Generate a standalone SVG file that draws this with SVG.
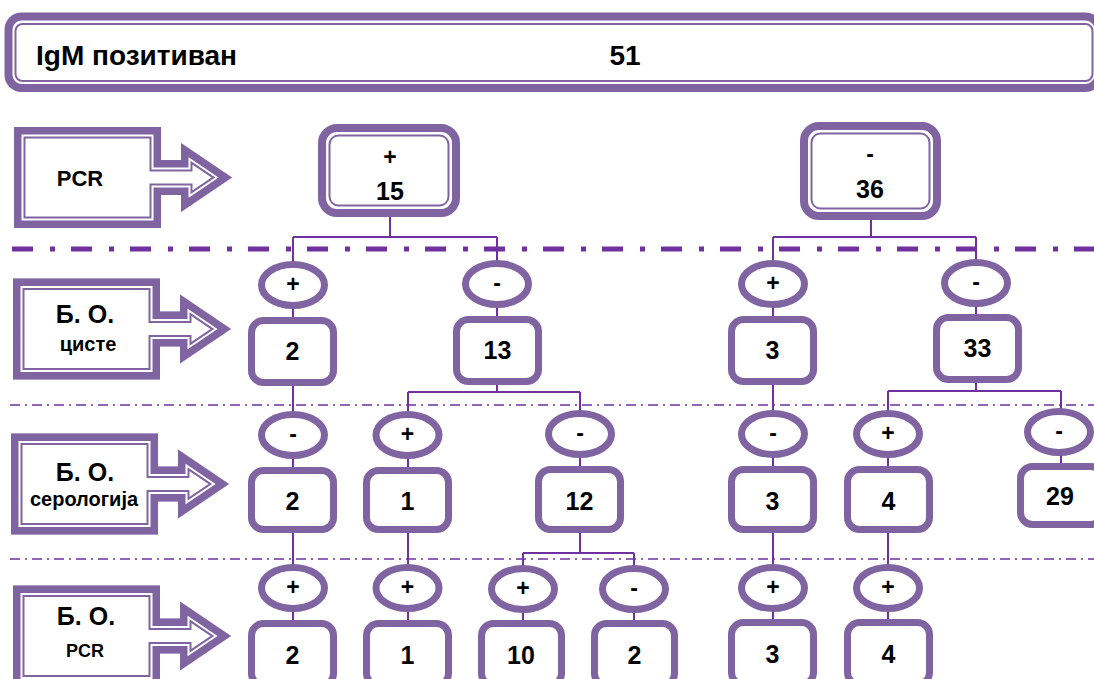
<svg xmlns="http://www.w3.org/2000/svg" xmlns:xlink="http://www.w3.org/1999/xlink" width="1094" height="679" viewBox="0 0 1094 679">
<style>
.t{font-family:"Liberation Sans",Arial,sans-serif;font-weight:bold;fill:#000;text-anchor:middle}
.oval{fill:#fff;stroke:#8064A2;stroke-width:7}
.box{fill:#fff;stroke:#8064A2;stroke-width:7}
.thick{fill:#fff;stroke:#8064A2;stroke-width:8}
.thin{fill:none;stroke:#8064A2;stroke-width:2}
.conn{fill:none;stroke:#7030A0;stroke-width:2}
.sep1{fill:none;stroke:#7030A0;stroke-width:5;stroke-dasharray:21 17 5 16}
.sep2{fill:none;stroke:#7030A0;stroke-width:1.6;stroke-dasharray:10 5 2 5}
.a1{fill:#fff;stroke:#8064A2;stroke-width:23;stroke-linejoin:miter}
.a2{fill:none;stroke:#fff;stroke-width:19;stroke-linejoin:miter}
.a3{fill:none;stroke:#8064A2;stroke-width:15;stroke-linejoin:miter}
</style>
<defs>
<path id="arrowShape" d="M0,-50.5 H147 V-17.5 H167 V-34.5 L218,0 L167,34.5 V17.5 H147 V50.5 H0 Z"/>
<clipPath id="arrowClip"><use href="#arrowShape"/></clipPath>
</defs>
<rect width="1094" height="679" fill="#fff"/>

<g id="header">
<rect class="thick" x="8.5" y="16.5" width="1090" height="71.5" rx="13"/>
<rect class="thin" x="15.5" y="24" width="1077" height="57" rx="7"/>
<text class="t" x="36" y="65" font-size="28" style="text-anchor:start">IgM позитиван</text>
<text class="t" x="625" y="65" font-size="28">51</text>
</g>

<g id="separators">
<line class="sep1" x1="12" y1="249" x2="1094" y2="249"/>
<line class="sep2" x1="10" y1="405" x2="1094" y2="405"/>
<line class="sep2" x1="10" y1="559" x2="1094" y2="559"/>
</g>

<g id="connectors">
<path class="conn" d="M390,217 V237 M293,237 H497 M293,237 V640 M497,237 V392 M408,392 H580 M408,392 V640 M580,392 V553 M523,553 H634 M523,553 V640 M634,553 V640"/>
<path class="conn" d="M871,220 V237 M773,237 H976 M773,237 V640 M976,237 V391 M888,391 H1061 M888,391 V640 M1061,391 V470"/>
</g>

<g id="label-pcr" transform="translate(14,177.5)">
<g clip-path="url(#arrowClip)"><use href="#arrowShape" class="a1"/><use href="#arrowShape" class="a2"/><use href="#arrowShape" class="a3"/></g>
<text class="t" x="66" y="8" font-size="22">PCR</text>
</g>
<g id="label-bo-ciste" transform="translate(13,329)">
<g clip-path="url(#arrowClip)"><use href="#arrowShape" class="a1"/><use href="#arrowShape" class="a2"/><use href="#arrowShape" class="a3"/></g>
<text class="t" x="72" y="-6" font-size="25">Б. О.</text>
<text class="t" x="75" y="22" font-size="20">цисте</text>
</g>
<g id="label-bo-serologija" transform="translate(11,484)">
<g clip-path="url(#arrowClip)"><use href="#arrowShape" class="a1"/><use href="#arrowShape" class="a2"/><use href="#arrowShape" class="a3"/></g>
<text class="t" x="74" y="-3" font-size="25">Б. О.</text>
<text class="t" x="73" y="22" font-size="20">серологија</text>
</g>
<g id="label-bo-pcr" transform="translate(13,636)">
<g clip-path="url(#arrowClip)"><use href="#arrowShape" class="a1"/><use href="#arrowShape" class="a2"/><use href="#arrowShape" class="a3"/></g>
<text class="t" x="73" y="-11" font-size="25">Б. О.</text>
<text class="t" x="72" y="21" font-size="18">PCR</text>
</g>

<g id="pcr-pos">
<rect class="thick" x="322" y="128" width="134" height="85" rx="15"/>
<rect class="thin" x="329.5" y="135.5" width="119" height="70" rx="9"/>
<text class="t" x="390" y="165" font-size="23">+</text>
<text class="t" x="390" y="200" font-size="25">15</text>
</g>
<g id="pcr-neg">
<rect class="thick" x="804" y="126" width="133" height="90" rx="15"/>
<rect class="thin" x="811.5" y="133.5" width="118" height="75" rx="9"/>
<text class="t" x="870" y="162" font-size="23">-</text>
<text class="t" x="870" y="198" font-size="25">36</text>
</g>

<g id="r1a"><ellipse class="oval" cx="293" cy="285" rx="31.5" ry="20.5"/><text class="t" x="293" y="292" font-size="23">+</text>
<rect class="box" x="251.5" y="320.5" width="82" height="62" rx="12"/><text class="t" x="292.5" y="360" font-size="25">2</text></g>
<g id="r1b"><ellipse class="oval" cx="497" cy="284" rx="31.5" ry="20.5"/><text class="t" x="497" y="291" font-size="23">-</text>
<rect class="box" x="456.5" y="319.5" width="82" height="62" rx="12"/><text class="t" x="497.5" y="359" font-size="25">13</text></g>
<g id="r1c"><ellipse class="oval" cx="773" cy="284" rx="31.5" ry="20.5"/><text class="t" x="773" y="291" font-size="23">+</text>
<rect class="box" x="731.5" y="319.5" width="82" height="62" rx="12"/><text class="t" x="772.5" y="359" font-size="25">3</text></g>
<g id="r1d"><ellipse class="oval" cx="976" cy="283" rx="31.5" ry="20.5"/><text class="t" x="976" y="290" font-size="23">-</text>
<rect class="box" x="936.5" y="317.5" width="82" height="62" rx="12"/><text class="t" x="977.5" y="357" font-size="25">33</text></g>

<g id="r2a"><ellipse class="oval" cx="293" cy="435" rx="31.5" ry="20.5"/><text class="t" x="293" y="442" font-size="23">-</text>
<rect class="box" x="251.5" y="470.5" width="82" height="59" rx="12"/><text class="t" x="292.5" y="510" font-size="25">2</text></g>
<g id="r2b"><ellipse class="oval" cx="407.5" cy="435" rx="31.5" ry="20.5"/><text class="t" x="407.5" y="442" font-size="23">+</text>
<rect class="box" x="366.5" y="470.5" width="82" height="59" rx="12"/><text class="t" x="407.5" y="510" font-size="25">1</text></g>
<g id="r2c"><ellipse class="oval" cx="580" cy="434" rx="31.5" ry="20.5"/><text class="t" x="580" y="441" font-size="23">-</text>
<rect class="box" x="538.5" y="469.5" width="82" height="60" rx="12"/><text class="t" x="579.5" y="510" font-size="25">12</text></g>
<g id="r2d"><ellipse class="oval" cx="773" cy="434" rx="31.5" ry="20.5"/><text class="t" x="773" y="441" font-size="23">-</text>
<rect class="box" x="731.5" y="469.5" width="82" height="60" rx="12"/><text class="t" x="772.5" y="510" font-size="25">3</text></g>
<g id="r2e"><ellipse class="oval" cx="888" cy="434" rx="31.5" ry="20.5"/><text class="t" x="888" y="441" font-size="23">+</text>
<rect class="box" x="847.5" y="469.5" width="82" height="60" rx="12"/><text class="t" x="888.5" y="510" font-size="25">4</text></g>
<g id="r2f"><ellipse class="oval" cx="1059" cy="432" rx="31.5" ry="20.5"/><text class="t" x="1059" y="439" font-size="23">-</text>
<rect class="box" x="1020.5" y="466.5" width="82" height="58" rx="12"/><text class="t" x="1060" y="505" font-size="25">29</text></g>

<g id="r3a"><ellipse class="oval" cx="293" cy="588" rx="31.5" ry="20.5"/><text class="t" x="293" y="595" font-size="23">+</text>
<rect class="box" x="251.5" y="623.5" width="82" height="62" rx="12"/><text class="t" x="292.5" y="664" font-size="25">2</text></g>
<g id="r3b"><ellipse class="oval" cx="407.5" cy="588" rx="31.5" ry="20.5"/><text class="t" x="407.5" y="595" font-size="23">+</text>
<rect class="box" x="366.5" y="623.5" width="82" height="62" rx="12"/><text class="t" x="407.5" y="664" font-size="25">1</text></g>
<g id="r3c"><ellipse class="oval" cx="523" cy="589" rx="31.5" ry="20.5"/><text class="t" x="523" y="596" font-size="23">+</text>
<rect class="box" x="481.5" y="623.5" width="80" height="62" rx="12"/><text class="t" x="521" y="664" font-size="25">10</text></g>
<g id="r3d"><ellipse class="oval" cx="634" cy="589" rx="31.5" ry="20.5"/><text class="t" x="634" y="596" font-size="23">-</text>
<rect class="box" x="594.5" y="623.5" width="80" height="62" rx="12"/><text class="t" x="634.5" y="664" font-size="25">2</text></g>
<g id="r3e"><ellipse class="oval" cx="773" cy="588" rx="31.5" ry="20.5"/><text class="t" x="773" y="595" font-size="23">+</text>
<rect class="box" x="731.5" y="622.5" width="82" height="62" rx="12"/><text class="t" x="772.5" y="663" font-size="25">3</text></g>
<g id="r3f"><ellipse class="oval" cx="888" cy="588" rx="31.5" ry="20.5"/><text class="t" x="888" y="595" font-size="23">+</text>
<rect class="box" x="847.5" y="622.5" width="82" height="62" rx="12"/><text class="t" x="888.5" y="663" font-size="25">4</text></g>
</svg>
